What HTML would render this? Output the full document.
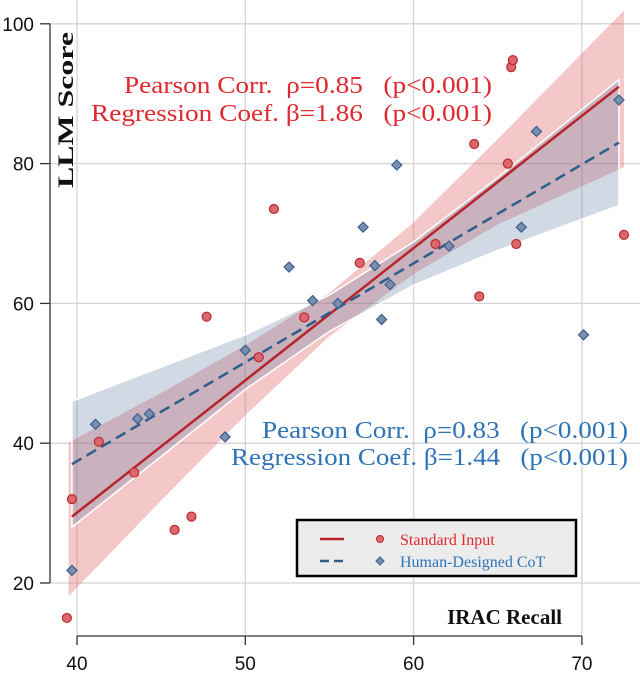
<!DOCTYPE html>
<html><head><meta charset="utf-8"><style>
html,body{margin:0;padding:0;background:#fff;}
svg{display:block;}
</style></head><body>
<svg id="chart" width="640" height="673" viewBox="0 0 640 673" xmlns="http://www.w3.org/2000/svg">
<g id="grid"></g>
<g id="bands"></g>
<g id="lines"></g>
<g id="points"></g>
<g id="axes"></g>
<text transform="translate(73,110) rotate(-90)" text-anchor="middle" font-family="Liberation Serif, serif" font-weight="bold" font-size="22" fill="#111" textLength="156" lengthAdjust="spacingAndGlyphs">LLM Score</text>
<text x="562" y="624" text-anchor="end" font-family="Liberation Serif, serif" font-weight="bold" font-size="21" fill="#111">IRAC Recall</text>
<g font-family="Liberation Serif, serif" font-size="24" fill="#e0282e">
<text x="124" y="93" textLength="368" lengthAdjust="spacingAndGlyphs" xml:space="preserve">Pearson Corr.  ρ=0.85   (p&lt;0.001)</text>
<text x="91" y="121" textLength="401" lengthAdjust="spacingAndGlyphs" xml:space="preserve">Regression Coef. β=1.86   (p&lt;0.001)</text>
</g>
<g font-family="Liberation Serif, serif" font-size="24" fill="#2f73b8">
<text x="262" y="438" textLength="366" lengthAdjust="spacingAndGlyphs" xml:space="preserve">Pearson Corr.  ρ=0.83   (p&lt;0.001)</text>
<text x="231" y="465" textLength="397" lengthAdjust="spacingAndGlyphs" xml:space="preserve">Regression Coef. β=1.44   (p&lt;0.001)</text>
</g>
<g>
<rect x="297" y="520" width="279" height="56" fill="#ececec" stroke="#000" stroke-width="2.5"/>
<line x1="320" y1="539" x2="344" y2="539" stroke="#b5252b" stroke-width="2.5"/>
<circle cx="380" cy="539" r="3.5" fill="#d9686e" stroke="#c0282e" stroke-width="1"/>
<text x="400" y="545" font-family="Liberation Serif, serif" font-size="16" fill="#e0282e">Standard Input</text>
<line x1="320" y1="561" x2="344" y2="561" stroke="#2e5f8a" stroke-width="2.5" stroke-dasharray="9,5"/>
<path d="M380 557 L384 561 L380 565 L376 561 Z" fill="#7a8fad" stroke="#3a5f8f" stroke-width="1"/>
<text x="400" y="567" font-family="Liberation Serif, serif" font-size="16" fill="#2f73b8">Human-Designed CoT</text>
</g>
</svg>
<script>
const xTicks=[40,50,60,70];
const yTicks=[20,40,60,80,100];
const stdX=[39.4,39.7,41.3,43.4,45.8,46.8,47.7,50.8,51.7,53.5,56.8,61.3,63.9,63.6,65.8,65.9,65.6,66.1,72.5];
const stdY=[15,32,40.2,35.8,27.6,29.5,58.1,52.3,73.5,58,65.8,68.5,61,82.8,93.8,94.8,80,68.5,69.8];
const cotX=[39.7,41.1,43.6,44.3,48.8,50,52.6,54,55.5,57,57.7,58.1,58.6,59,62.1,66.4,67.3,70.1,72.2];
const cotY=[21.8,42.7,43.5,44.2,40.9,53.3,65.2,60.4,60,70.9,65.4,57.7,62.7,79.8,68.2,70.9,84.6,55.5,89.1];
const stdFitX=[39.7,72.2], stdFitY=[29.5,91];
const cotFitX=[39.7,72.2], cotFitY=[37,83];
const stdBandX=[39.5,45,50,55,60,65,72.5];
const stdBandLo=[18.1,31.8,44,55.3,64.2,71.3,79.5];
const stdBandHi=[40.1,47.2,54,61.5,71.6,83.5,101.9];
const cotBandX=[39.7,45,50,55,60,65,72.2];
const cotBandLo=[28,38.1,47.7,56,62.6,67.6,74];
const cotBandHi=[46,50.9,55.5,61.2,68.8,78,92];

const NS="http://www.w3.org/2000/svg";
const X=v=>77+(v-40)*16.83;
const Y=v=>583-(v-20)*6.99;
function mk(tag,attrs,parent){const e=document.createElementNS(NS,tag);for(const k in attrs)e.setAttribute(k,attrs[k]);document.getElementById(parent).appendChild(e);return e;}

xTicks.forEach(t=>{
  const g=mk('line',{x1:X(t),x2:X(t),y1:0,y2:636,stroke:'#d4d4d4','stroke-width':1.3},'grid');
  
  
  const tk=mk('line',{x1:X(t),x2:X(t),y1:636,y2:645,stroke:'#333','stroke-width':1.3},'axes');
  
  
  const tx=mk('text',{x:X(t),y:670,'text-anchor':'middle','font-family':'Liberation Sans, sans-serif','font-size':19,fill:'#111'},'axes');
  tx.textContent=t;
  
  
});
yTicks.forEach(t=>{
  const g=mk('line',{x1:50,x2:640,y1:Y(t),y2:Y(t),stroke:'#d4d4d4','stroke-width':1.3},'grid');
  
  
  const tk=mk('line',{x1:40,x2:50,y1:Y(t),y2:Y(t),stroke:'#333','stroke-width':1.3},'axes');
  
  
  const tx=mk('text',{x:34,y:Y(t)+7,'text-anchor':'end','font-family':'Liberation Sans, sans-serif','font-size':19,fill:'#111'},'axes');
  tx.textContent=t;
  
  
});
const ya=mk('line',{x1:50,x2:50,y1:Y(100),y2:Y(20),stroke:'#333','stroke-width':1.3},'axes');


const xa=mk('line',{x1:X(40),x2:X(70),y1:636,y2:636,stroke:'#333','stroke-width':1.3},'axes');



function bandPath(xs,lo,hi){let d='';xs.forEach((x,i)=>{d+=(i?'L':'M')+X(x)+' '+Y(hi[i])+' ';});for(let i=xs.length-1;i>=0;i--)d+='L'+X(xs[i])+' '+Y(lo[i])+' ';return d+'Z';}
const sb=mk('path',{d:bandPath(stdBandX,stdBandLo,stdBandHi),fill:'rgba(226,110,110,0.38)'},'bands');


const cb=mk('path',{d:bandPath(cotBandX,cotBandLo,cotBandHi),fill:'rgba(90,120,160,0.28)',stroke:'#fff','stroke-width':1.5},'bands');



const sl=mk('line',{x1:X(stdFitX[0]),y1:Y(stdFitY[0]),x2:X(stdFitX[1]),y2:Y(stdFitY[1]),stroke:'#b5252b','stroke-width':2.5},'lines');


const cl=mk('line',{x1:X(cotFitX[0]),y1:Y(cotFitY[0]),x2:X(cotFitX[1]),y2:Y(cotFitY[1]),stroke:'#2e5f8a','stroke-width':2.5,'stroke-dasharray':'11,6'},'lines');



cotX.forEach((x,i)=>{
  const cx=X(x),cy=Y(cotY[i]);
  const p=mk('path',{d:`M${cx} ${cy-5} L${cx+5} ${cy} L${cx} ${cy+5} L${cx-5} ${cy} Z`,fill:'#7a8fad',stroke:'#3a5f8f','stroke-width':1.2},'points');
  
  
});
stdX.forEach((x,i)=>{
  const c=mk('circle',{cx:X(x),cy:Y(stdY[i]),r:4.5,fill:'#d9686e',stroke:'#c0282e','stroke-width':1.2},'points');
  
  
});
</script>
</body></html>
